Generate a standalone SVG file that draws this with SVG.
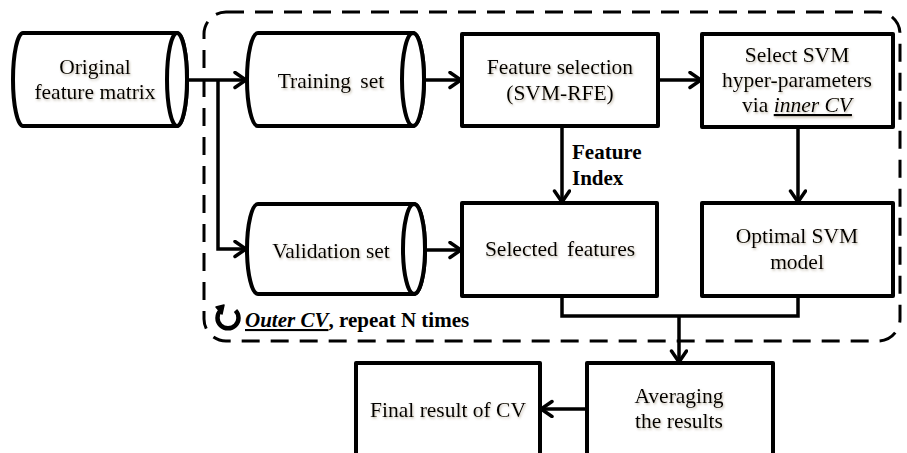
<svg xmlns="http://www.w3.org/2000/svg" width="907" height="453" viewBox="0 0 907 453">
  <defs>
    <style>
      .box { fill: #fff; stroke: #000; stroke-width: 4; stroke-linejoin: round; }
      .cyl { fill: #fff; stroke: #000; stroke-width: 4; stroke-linejoin: round; }
      .wire { fill: none; stroke: #000; stroke-width: 3.5; stroke-linejoin: miter; }
      .lbl { font-family: 'Liberation Serif', 'DejaVu Serif', serif; font-size: 21.5px; fill: #000; text-anchor: middle; filter: url(#soft); }
      .bold { font-family: 'Liberation Serif', 'DejaVu Serif', serif; font-size: 21px; font-weight: bold; fill: #000; }
      .frame { fill: none; stroke: #000; stroke-width: 3; stroke-dasharray: 18 11; }
    </style>
    <filter id="soft" x="-10%" y="-30%" width="120%" height="160%">
      <feDropShadow dx="1" dy="1.5" stdDeviation="1" flood-color="#7a6a50" flood-opacity="0.45"/>
    </filter>
    <marker id="arr" markerUnits="userSpaceOnUse" markerWidth="16" markerHeight="20" refX="13" refY="9" orient="auto">
      <path d="M2,1.5 L13,9 L2,16.5" fill="none" stroke="#000" stroke-width="3.5" stroke-linecap="round" stroke-linejoin="miter"/>
    </marker>
  </defs>

  <rect width="907" height="453" fill="#fff"/>

  <!-- outer cross-validation loop frame -->
  <g id="outer-cv">
    <rect class="frame" x="204" y="12" width="696" height="329" rx="22" ry="22"/>
    <path d="M220.5,310.5 A10.5,10.5 0 1 0 235.5,310.5" fill="none" stroke="#000" stroke-width="4.5"/>
    <path d="M216,307 L224,305 L222,314 Z" fill="#000" stroke="#000" stroke-width="1.5" stroke-linejoin="round"/>
    <text class="bold" font-family="Liberation Serif, DejaVu Serif, serif" x="245" y="327"><tspan font-style="italic" text-decoration="underline">Outer CV</tspan>, repeat N times</text>
  </g>

  <!-- connectors -->
  <g id="connectors">
    <path class="wire" d="M188,80 L246,80" marker-end="url(#arr)"/>
    <path class="wire" d="M218,80 L218,249 L246,249" marker-end="url(#arr)"/>
    <path class="wire" d="M425,80 L461,80" marker-end="url(#arr)"/>
    <path class="wire" d="M426,250 L461,250" marker-end="url(#arr)"/>
    <path class="wire" d="M659,80 L701,80" marker-end="url(#arr)"/>
    <path class="wire" d="M562,127 L562,202" marker-end="url(#arr)"/>
    <path class="wire" d="M798,128 L798,202" marker-end="url(#arr)"/>
    <path class="wire" d="M562,297 L562,316 L798,316 L798,297"/>
    <path class="wire" d="M679,316 L679,362" marker-end="url(#arr)"/>
    <path class="wire" d="M586,409 L541,409" marker-end="url(#arr)"/>
    <text class="bold" font-family="Liberation Serif, DejaVu Serif, serif" x="572" y="159">Feature</text>
    <text class="bold" font-family="Liberation Serif, DejaVu Serif, serif" x="572" y="185">Index</text>
  </g>

  <!-- data sets (cylinders) -->
  <g id="original-matrix" font-family="Liberation Serif, DejaVu Serif, serif">
    <path class="cyl" d="M23,33 L177,33 A10,46.5 0 0 1 177,126 L23,126 A10,46.5 0 0 1 23,33 Z"/>
    <ellipse class="cyl" cx="177" cy="79.5" rx="10" ry="46.5"/>
    <text class="lbl" x="95" y="74">Original</text>
    <text class="lbl" x="95" y="99">feature matrix</text>
  </g>

  <g id="training-set" font-family="Liberation Serif, DejaVu Serif, serif">
    <path class="cyl" d="M258,33 L413,33 A11,46.5 0 0 1 413,126 L258,126 A11,46.5 0 0 1 258,33 Z"/>
    <ellipse class="cyl" cx="413" cy="79.5" rx="11" ry="46.5"/>
    <text class="lbl" x="331" y="88" word-spacing="4">Training set</text>
  </g>

  <g id="validation-set" font-family="Liberation Serif, DejaVu Serif, serif">
    <path class="cyl" d="M258,204 L414,204 A11,45 0 0 1 414,294 L258,294 A11,45 0 0 1 258,204 Z"/>
    <ellipse class="cyl" cx="414" cy="249" rx="11" ry="45"/>
    <text class="lbl" x="331" y="258">Validation set</text>
  </g>

  <!-- processing steps -->
  <g id="feature-selection" font-family="Liberation Serif, DejaVu Serif, serif">
    <rect class="box" x="462" y="34" width="196" height="92"/>
    <text class="lbl" x="560" y="74">Feature selection</text>
    <text class="lbl" x="560" y="100">(SVM-RFE)</text>
  </g>

  <g id="select-svm" font-family="Liberation Serif, DejaVu Serif, serif">
    <rect class="box" x="702" y="34" width="191" height="93"/>
    <text class="lbl" x="797" y="62">Select SVM</text>
    <text class="lbl" x="797" y="87">hyper-parameters</text>
    <text class="lbl" x="797" y="112">via <tspan font-style="italic" text-decoration="underline">inner CV</tspan></text>
  </g>

  <g id="selected-features" font-family="Liberation Serif, DejaVu Serif, serif">
    <rect class="box" x="462" y="203" width="195" height="93"/>
    <text class="lbl" x="560" y="256" word-spacing="4">Selected features</text>
  </g>

  <g id="optimal-svm" font-family="Liberation Serif, DejaVu Serif, serif">
    <rect class="box" x="702" y="203" width="191" height="93"/>
    <text class="lbl" x="797" y="243">Optimal SVM</text>
    <text class="lbl" x="797" y="269">model</text>
  </g>

  <g id="averaging" font-family="Liberation Serif, DejaVu Serif, serif">
    <rect class="box" x="587" y="363" width="186" height="110"/>
    <text class="lbl" x="679" y="403">Averaging</text>
    <text class="lbl" x="679" y="428">the results</text>
  </g>

  <g id="final-result" font-family="Liberation Serif, DejaVu Serif, serif">
    <rect class="box" x="356" y="363" width="184" height="110"/>
    <text class="lbl" x="448" y="417">Final result of CV</text>
  </g>
</svg>
